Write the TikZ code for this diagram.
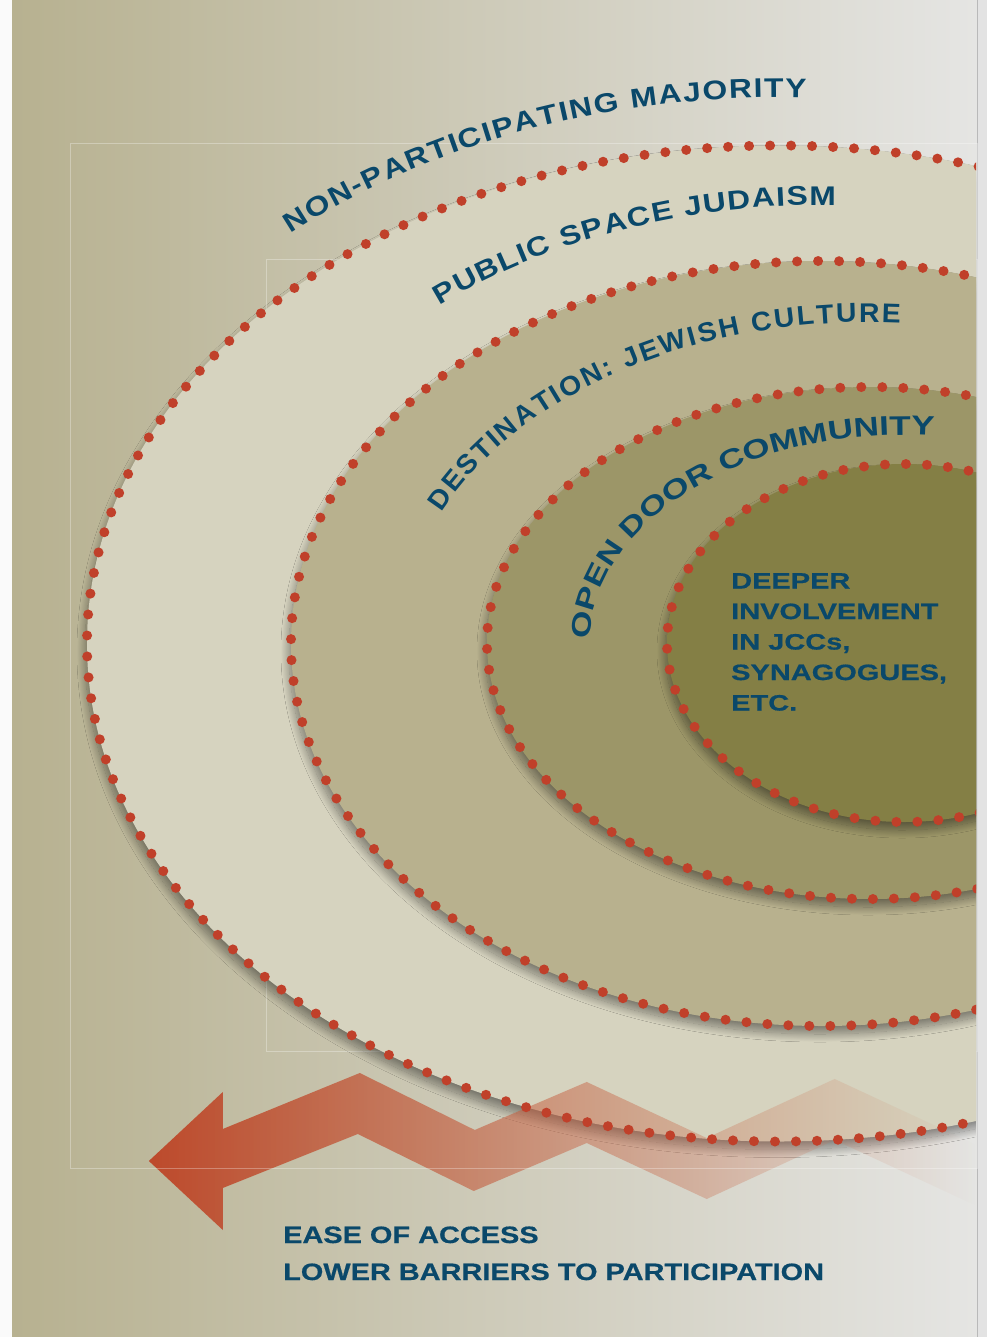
\documentclass[tikz,border=0pt]{standalone}
\usepackage{fontspec}
\setmainfont{Liberation Sans}
\newfontfamily\labelnarrow[FakeStretch=1.05]{Liberation Sans}
\newfontfamily\labelmid[FakeStretch=1.18]{Liberation Sans}
\newfontfamily\labelwide[FakeStretch=1.3]{Liberation Sans}
\newfontfamily\boxfont[FakeStretch=1.3, FakeBold=0.6]{Liberation Sans}
\newfontfamily\basefont[FakeStretch=1.22, FakeBold=0.6]{Liberation Sans}
\usetikzlibrary{decorations.text, fadings, shadows.blur}

\definecolor{pagel}{RGB}{183,177,144}
\definecolor{pagem}{RGB}{201,197,170}
\definecolor{pager}{RGB}{229,229,227}
\definecolor{ringA}{RGB}{214,211,191}
\definecolor{ringB}{RGB}{184,177,142}
\definecolor{ringC}{RGB}{156,150,104}
\definecolor{ringD}{RGB}{132,127,69}
\definecolor{dotred}{RGB}{192,64,42}
\definecolor{inkblue}{RGB}{10,72,106}
\definecolor{arrowred}{RGB}{189,74,44}
\definecolor{arrowpale}{RGB}{206,118,86}

\tikzfading[name=arrowfade, left color=transparent!0, middle color=transparent!30, right color=transparent!100]

\tikzset{
  ring/.style={blur shadow={shadow xshift=-2pt, shadow yshift=-8pt, shadow blur radius=8pt,
    shadow blur steps=24, shadow opacity=42}},
  dotline/.style={draw=dotred, line width=10pt, line cap=round, dash pattern=on 0pt off 21pt},
  ringtext/.style 2 args={decorate, decoration={text along path, text align={fit to path},
    text={|#1\bfseries\fontsize{27}{32}\selectfont\color{inkblue}|#2}}},
  bottomtext/.style={anchor=base west, inner sep=0pt, text=inkblue, font=\basefont\bfseries\fontsize{23.7}{28}\selectfont},
}

\begin{document}
\begin{tikzpicture}[x=1pt, y=-1pt]
  \useasboundingbox (0,0) rectangle (987,1337);
  % page and margins
  \fill[white!96!gray] (0,0) rectangle (12,1337);
  \shade[left color=pagel, middle color=pagem, right color=pager] (12,0) rectangle (977,1337);
  \fill[gray!22] (977,0) rectangle (987,1337);
  \draw[gray!55, line width=1pt] (977.5,0) -- (977.5,1337);
  \draw[white, opacity=.3, line width=.8pt] (266,259) rectangle (977,1051);

  % the four nested rings
  \begin{scope}
    \clip (12,0) rectangle (976,1337);
    \fill[ringA, ring] (779,643.5) ellipse [x radius=692, y radius=498];
    \fill[ringB, ring] (822,643.5) ellipse [x radius=531, y radius=382.5];
    \fill[ringC, ring] (870,643) ellipse [x radius=383, y radius=256];
    \fill[ringD, ring] (904,643) ellipse [x radius=237, y radius=179];
  \end{scope}

  % zigzag arrow
  \shade[left color=arrowred, right color=arrowpale, path fading=arrowfade]
    (149,1161) -- (223,1092) -- (223,1129) -- (360,1073) -- (475,1130)
    -- (587,1082) -- (707,1138) -- (835,1079) -- (975,1144)
    -- (975,1205) -- (835,1140) -- (707,1199) -- (587,1143) -- (474,1191)
    -- (358,1134) -- (223,1188) -- (223,1230) -- cycle;
  \draw[white, opacity=.3, line width=.8pt] (70,143) rectangle (977,1168);

  % dotted edges
  \begin{scope}
    \clip (12,0) rectangle (976,1337);
    \draw[dotline] (779,643.5) ellipse [x radius=692, y radius=498];
    \draw[dotline] (822,643.5) ellipse [x radius=531, y radius=382.5];
    \draw[dotline] (870,643) ellipse [x radius=383, y radius=256];
    \draw[dotline] (904,643) ellipse [x radius=237, y radius=179];
  \end{scope}

  % curved labels
  \path[ringtext={\labelmid}{NON-PARTICIPATING MAJORITY}]
    ({779+740*cos(228.7)},{643.5+546*sin(228.7)})
    arc [start angle=228.7, end angle=272.1, x radius=740, y radius=546];
  \path[ringtext={\labelmid}{PUBLIC SPACE JUDAISM}]
    ({822+601*cos(230.5)},{643.5+438.5*sin(230.5)})
    arc [start angle=230.5, end angle=271.3, x radius=601, y radius=438.5];
  \path[ringtext={\labelnarrow}{DESTINATION: JEWISH CULTURE}]
    ({870+469*cos(204)},{643+321*sin(204)})
    arc [start angle=204, end angle=273.7, x radius=469, y radius=321];
  \path[ringtext={\labelwide}{OPEN DOOR COMMUNITY}]
    ({904+314*cos(181)},{643+208*sin(181)})
    arc [start angle=181, end angle=275.3, x radius=314, y radius=208];

  \node[anchor=north west, inner sep=0pt, align=left, text=inkblue,
    font=\boxfont\bfseries\fontsize{22.3}{30.5}\selectfont] (core) at (731,573)
    {DEEPER\\INVOLVEMENT\\IN JCCs,\\SYNAGOGUES,\\ETC.};

  \node[bottomtext] (ease) at (283,1243) {EASE OF ACCESS};
  \node[bottomtext] (barriers) at (283,1280) {LOWER BARRIERS TO PARTICIPATION};
\end{tikzpicture}
\end{document}
